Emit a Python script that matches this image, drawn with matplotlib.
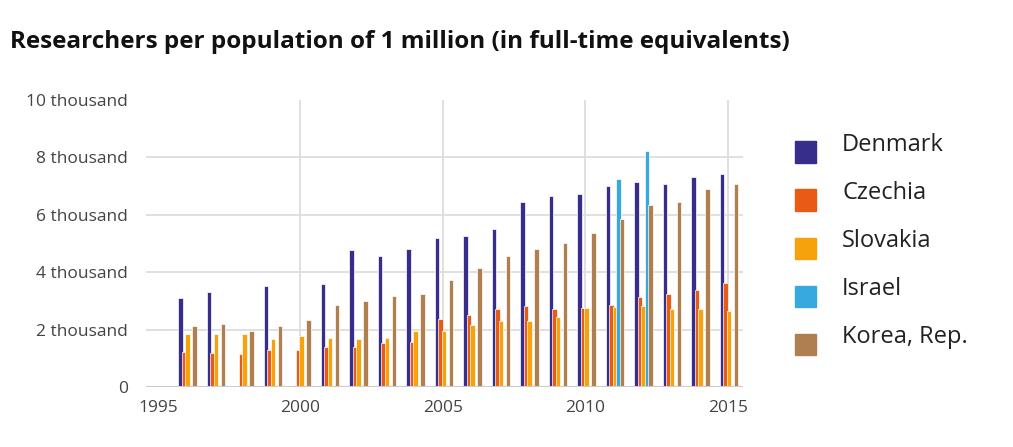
import numpy as np
import matplotlib
matplotlib.use('Agg')
import matplotlib.pyplot as plt
from matplotlib.patches import Rectangle

plt.rcParams['font.family'] = ['Open Sans', 'DejaVu Sans']

# data (researchers per million)
years = np.arange(1996, 2016)
denmark = [3110, 3310, np.nan, 3530, np.nan, 3600, 4760, 4570, 4810, 5180,
           5260, 5490, 6460, 6660, 6710, 7000, 7130, 7060, 7320, 7430]
czechia = [1230, 1170, 1150, 1290, 1290, 1400, 1400, 1540, 1580, 2360,
           2510, 2710, 2820, 2710, 2740, 2860, 3130, 3240, 3380, 3610]
slovakia = [1840, 1840, 1840, 1660, 1780, 1720, 1660, 1720, 1960, 1960,
            2160, 2300, 2300, 2450, 2740, 2800, 2830, 2710, 2710, 2650]
israel = [np.nan] * 15 + [7250, 8220, np.nan, np.nan, np.nan]
korea = [2140, 2200, 1960, 2140, 2330, 2860, 3000, 3170, 3240, 3730,
         4160, 4570, 4820, 5010, 5360, 5860, 6340, 6460, 6900, 7070]

names = ['Denmark', 'Czechia', 'Slovakia', 'Israel', 'Korea, Rep.']
series = [denmark, czechia, slovakia, israel, korea]
colors = ['#372d8b', '#e85b14', '#f5a20c', '#38a9df', '#af7f4f']
y_ticks = [0, 2000, 4000, 6000, 8000, 10000]
y_labels = ['0', '2 thousand', '4 thousand', '6 thousand', '8 thousand', '10 thousand']
x_ticks = [1995, 2000, 2005, 2010, 2015]

fig = plt.figure(figsize=(10.13, 4.47), dpi=100)
ax = fig.add_axes([146 / 1013, 1 - 387 / 447, 597 / 1013, 287 / 447])

# grid lines
for v in y_ticks[1:-1]:
    ax.axhline(v, color='#dddddd', lw=1.3, zorder=0)
for v in x_ticks[1:]:
    ax.axvline(v, color='#dddddd', lw=1.3, zorder=0)
ax.axhline(0, color='#cccccc', lw=1.5, zorder=3)

offsets = np.array([-6, -2.5, 1, 4.5, 8]) / 28.5
for vals, c, off in zip(series, colors, offsets):
    vals = np.array(vals, dtype=float)
    ok = ~np.isnan(vals)
    ax.bar(years[ok] + off, vals[ok], width=0.15, color=c,
           edgecolor='white', linewidth=0.5, zorder=2)

ax.set_xlim(1994.58, 2015.53)
ax.set_ylim(0, 10000)
ax.set_yticks(y_ticks)
ax.set_yticklabels(y_labels)
ax.set_xticks(x_ticks)
for s in ax.spines.values():
    s.set_visible(False)
ax.tick_params(length=0, labelsize=12.5, colors='#444444')
ax.tick_params(axis='y', pad=13)
ax.tick_params(axis='x', pad=9)

fig.text(10 / 1013, 1 - 42 / 447, 'Researchers per population of 1 million (in full-time equivalents)',
         fontsize=17.5, fontweight='bold', color='#111111', va='center', ha='left')

# legend
for i, (n, c) in enumerate(zip(names, colors)):
    yc = 152 + 48 * i
    fig.patches.append(Rectangle((795 / 1013, 1 - (yc + 10.5) / 447), 21 / 1013, 21 / 447,
                                 transform=fig.transFigure, color=c))
    fig.text(842 / 1013, 1 - (yc - 7) / 447, n, fontsize=17, color='#222222',
             va='center', ha='left')

fig.savefig('out.png', dpi=100)
